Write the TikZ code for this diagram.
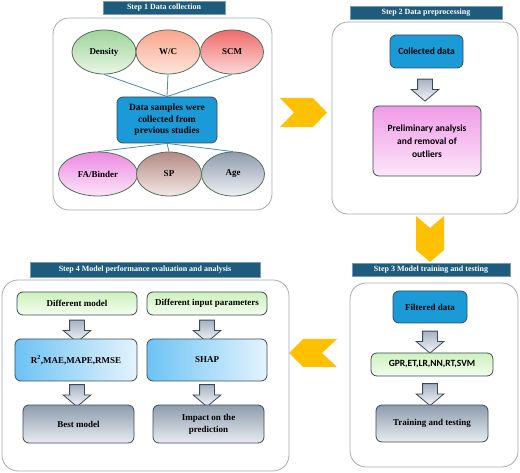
\documentclass[tikz,border=0pt]{standalone}
\usepackage{fontspec}
\setmainfont{Liberation Serif}
\newfontfamily\carlito{Carlito}
\usetikzlibrary{shapes.geometric,shapes.arrows}

\definecolor{panelgray}{HTML}{A4ACB4}
\definecolor{titleblue}{HTML}{1D5C7C}
\definecolor{titleedge}{HTML}{7F98AA}
\definecolor{solidblue}{HTML}{1A9AD6}
\definecolor{boxedge}{HTML}{3C4A58}
\definecolor{elledge}{HTML}{55705A}
\definecolor{linkblue}{HTML}{4E88A8}
\definecolor{chevgold}{HTML}{FFC000}
\definecolor{densA}{HTML}{9ED39A}\definecolor{densB}{HTML}{EAF6E6}
\definecolor{wcA}{HTML}{F8A58C}\definecolor{wcB}{HTML}{FEE6DD}
\definecolor{scmA}{HTML}{F06A6A}\definecolor{scmB}{HTML}{FCD8D8}
\definecolor{fabA}{HTML}{EC8BE3}\definecolor{fabB}{HTML}{FBE4F8}
\definecolor{spA}{HTML}{B48A84}\definecolor{spB}{HTML}{F3E8E6}
\definecolor{ageA}{HTML}{8F9BAD}\definecolor{ageB}{HTML}{EEF1F5}
\definecolor{greyA}{HTML}{8E9CAD}\definecolor{greyB}{HTML}{E8ECF1}
\definecolor{pinkA}{HTML}{F09BE6}\definecolor{pinkB}{HTML}{FCE6FA}
\definecolor{greenA}{HTML}{CDF1BD}\definecolor{greenB}{HTML}{F3FDEE}
\definecolor{skyA}{HTML}{6DC2F4}\definecolor{skyB}{HTML}{E4F4FD}
\definecolor{arrA}{HTML}{A4B2C2}\definecolor{arrB}{HTML}{F4F6F9}

\tikzset{
  panel/.style={draw=panelgray, line width=0.8pt, rounded corners=16pt, fill=white},
  steptitle/.style={draw=titleedge, fill=titleblue, text=white, inner sep=0pt,
    minimum height=13pt, font=\bfseries\fontsize{8}{9}\selectfont},
  ellnode/.style={ellipse, draw=elledge, line width=0.8pt, inner sep=0pt,
    minimum height=44pt, font=\bfseries\fontsize{9}{10}\selectfont},
  boxnode/.style={draw=boxedge, line width=0.8pt, rounded corners=6pt, inner sep=0pt,
    align=center, font=\bfseries\fontsize{9}{11.5}\selectfont},
  bluebox/.style={boxnode, fill=solidblue},
  greenbox/.style={boxnode, top color=greenA, bottom color=greenB},
  skybox/.style={boxnode, left color=skyA, right color=skyB},
  greybox/.style={boxnode, top color=greyA, bottom color=greyB},
  pinkbox/.style={boxnode, top color=pinkA, bottom color=pinkB},
  downarr/.style={single arrow, shape border rotate=270, draw=boxedge, line width=0.8pt,
    top color=arrA, bottom color=arrB, inner sep=7pt,
    single arrow head extend=6.5pt, single arrow tip angle=100, minimum height=22pt},
  chevfill/.style={fill=chevgold},
  link/.style={draw=linkblue, line width=0.8pt}
}

\begin{document}
\begin{tikzpicture}[x=1pt,y=-1pt]
\useasboundingbox (0,0) rectangle (520,473);

% step 1
\draw[panel] (53,18) rectangle (272,210);
\node[steptitle, minimum width=122pt] (t1) at (164,8) {Step 1 Data collection};
\node[ellnode, minimum width=64pt, top color=densA, bottom color=densB] (dens) at (104,52) {Density};
\node[ellnode, minimum width=64pt, top color=wcA, bottom color=wcB] (wc) at (168,52) {W/C};
\node[ellnode, minimum width=63pt, top color=scmA, bottom color=scmB] (scm) at (232,52) {SCM};
\node[bluebox, minimum width=100pt, minimum height=46pt, font=\bfseries\fontsize{9.5}{11.5}\selectfont] (samples) at (167,120) {Data samples were\\collected from\\previous studies};
\node[ellnode, minimum width=79pt, top color=fabA, bottom color=fabB] (fab) at (98,174) {FA/Binder};
\node[ellnode, minimum width=65pt, top color=spA, bottom color=spB] (sp) at (169,174) {SP};
\node[ellnode, minimum width=63pt, top color=ageA, bottom color=ageB] (age) at (233,174) {Age};
\foreach \e in {dens,wc,scm} \draw[link] (\e.south) -- (samples.north);
\foreach \e in {fab,sp,age} \draw[link] (samples.south) -- (\e.north);

% step 1 -> step 2
\fill[chevfill] (280,98) -- (313,98) -- (327,112.5) -- (313,127) -- (280,127) -- (294,112.5) -- cycle;

% step 2
\draw[panel] (332,22) rectangle (518,214);
\node[steptitle, minimum width=152pt] (t2) at (426,12.5) {Step 2 Data preprocessing};
\node[bluebox, minimum width=73pt, minimum height=33pt, font=\carlito\bfseries\fontsize{9.5}{11}\selectfont] (coll) at (426.5,51.5) {Collected data};
\node[downarr] (a21) at (425,87) {};
\node[pinkbox, minimum width=108pt, minimum height=70pt, font=\carlito\bfseries\fontsize{9.5}{13}\selectfont] (prelim) at (427,141) {Preliminary analysis\\and removal of\\outliers};

% step 2 -> step 3
\fill[chevfill] (416,216) -- (430,228) -- (444,216) -- (444,250) -- (430,262) -- (416,250) -- cycle;

% step 3
\draw[panel] (350,283) rectangle (518,467);
\node[steptitle, minimum width=158pt] (t3) at (431,270) {Step 3 Model training and testing};
\node[bluebox, minimum width=74pt, minimum height=32pt] (filt) at (430,307) {Filtered data};
\node[downarr] (a31) at (430,339) {};
\node[greenbox, minimum width=122pt, minimum height=23pt, font=\carlito\bfseries\fontsize{9.5}{11}\selectfont] (models) at (432,364.5) {GPR,ET,LR,NN,RT,SVM};
\node[downarr] (a32) at (430,391.5) {};
\node[greybox, minimum width=112pt, minimum height=37pt] (train) at (432,423.5) {Training and testing};

% step 3 -> step 4
\fill[chevfill] (337,339) -- (303,339) -- (289,353) -- (303,367) -- (337,367) -- (322,353) -- cycle;

% step 4
\draw[panel] (2,280) rectangle (289,471);
\node[steptitle, minimum width=230pt, minimum height=15pt] (t4) at (145,269.5) {Step 4 Model performance evaluation and analysis};
\node[greenbox, minimum width=120pt, minimum height=23pt] (dmod) at (77,303.5) {Different model};
\node[greenbox, minimum width=120pt, minimum height=23pt] (dinp) at (207,303.5) {Different input parameters};
\node[downarr] (a41) at (77,328) {};
\node[downarr] (a42) at (207,328) {};
\node[skybox, minimum width=122pt, minimum height=42pt] (metr) at (76,360) {R\textsuperscript{2},MAE,MAPE,RMSE};
\node[skybox, minimum width=120pt, minimum height=42pt] (shap) at (207,360) {SHAP};
\node[downarr] (a43) at (77,392.5) {};
\node[downarr] (a44) at (207,392.5) {};
\node[greybox, minimum width=111pt, minimum height=38pt] (best) at (78.5,424) {Best model};
\node[greybox, minimum width=111pt, minimum height=38pt, font=\bfseries\fontsize{9}{12.3}\selectfont] (impact) at (208.5,424) {Impact on the\\prediction};
\end{tikzpicture}
\end{document}
